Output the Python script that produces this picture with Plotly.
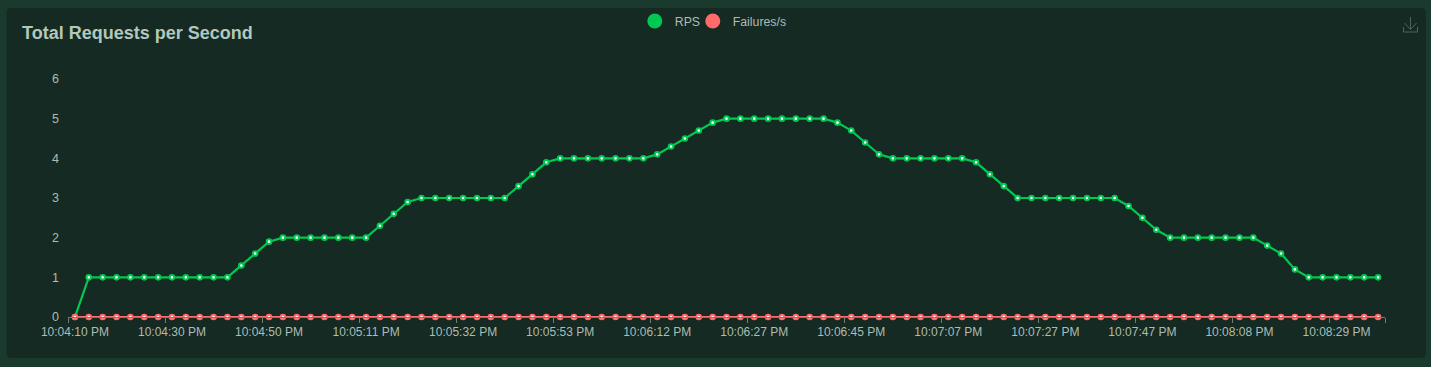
import plotly.graph_objects as go

W, H = 1431, 367
L, R, T, B = 67.5, 1385, 79, 317

rps = [0] + [1]*11 + [1.3, 1.6, 1.9] + [2]*7 + [2.3, 2.6, 2.9] + [3]*7 + [3.3, 3.6, 3.9] + [4]*7 + \
      [4.1, 4.3, 4.5, 4.7, 4.9] + [5]*8 + [4.9, 4.7, 4.4, 4.1] + [4]*6 + [3.9, 3.6, 3.3] + [3]*8 + \
      [2.8, 2.5, 2.2] + [2]*7 + [1.8, 1.6, 1.2] + [1]*6
failures = [0]*len(rps)
tick_labels = ["10:04:10 PM", "10:04:30 PM", "10:04:50 PM", "10:05:11 PM", "10:05:32 PM", "10:05:53 PM",
               "10:06:12 PM", "10:06:27 PM", "10:06:45 PM", "10:07:07 PM", "10:07:27 PM", "10:07:47 PM",
               "10:08:08 PM", "10:08:29 PM"]

GREEN = "#00c853"
RED = "#ff6b6b"
TEXT = "#adbcb4"
FONT = "Liberation Sans"
idx = list(range(len(rps)))
STEP = 7

def X(p): return (p - L) / (R - L)
def Y(p): return 1 - (p - T) / (B - T)

def marker(color):
    return dict(size=4.6, color="#ffffff", line=dict(color=color, width=2))

fig = go.Figure()
fig.add_trace(go.Scatter(x=idx, y=rps, mode="lines+markers", line=dict(color=GREEN, width=2.2),
                         marker=marker(GREEN), showlegend=False, cliponaxis=False))
fig.add_trace(go.Scatter(x=idx, y=failures, mode="lines+markers", line=dict(color=RED, width=2.2),
                         marker=marker(RED), showlegend=False, cliponaxis=False))
fig.add_trace(go.Scatter(x=[None], y=[None], mode="markers", name="RPS", legend="legend",
                         marker=dict(size=15, color=GREEN)))
fig.add_trace(go.Scatter(x=[None], y=[None], mode="markers", name="Failures/s", legend="legend2",
                         marker=dict(size=15, color=RED)))

def rounded(x0, y0, x1, y1, r):
    a, b, c, d = X(x0), X(x1), Y(y0), Y(y1)
    rx, ry = r / (R - L), r / (B - T)
    return (f"M{a+rx},{c} L{b-rx},{c} Q{b},{c} {b},{c-ry} L{b},{d+ry} Q{b},{d} {b-rx},{d} "
            f"L{a+rx},{d} Q{a},{d} {a},{d+ry} L{a},{c-ry} Q{a},{c} {a+rx},{c} Z")

shapes = [dict(type="path", xref="paper", yref="paper", path=rounded(6, 8, 1426, 358, 5),
               fillcolor="#152a22", line=dict(width=0), layer="below")]
ICON = "#4e655b"
def seg(pts):
    return dict(type="path", xref="paper", yref="paper", layer="above", line=dict(color=ICON, width=1),
                path="M" + " L".join(f"{X(a)},{Y(b)}" for a, b in pts))
shapes += [seg([(1403.5, 27), (1403.5, 32), (1417.5, 32), (1417.5, 27)]),
           seg([(1410.5, 17), (1410.5, 29)]),
           seg([(1404.5, 23), (1410.5, 29.5), (1416.5, 23)])]

def legend_at(px):
    return dict(orientation="h", x=X(px), y=Y(21), xanchor="left", yanchor="middle",
                bgcolor="rgba(0,0,0,0)", font=dict(size=12.3, color=TEXT), itemclick=False)

fig.update_layout(
    width=W, height=H, paper_bgcolor="#1b3a2e", plot_bgcolor="rgba(0,0,0,0)",
    margin=dict(l=L, r=W-R, t=T, b=H-B, autoexpand=False),
    font=dict(family=FONT, size=12, color=TEXT),
    title=dict(text="Total Requests per Second", x=22/W, y=1-33/H, xanchor="left", yanchor="middle",
               font=dict(family=FONT, size=18, color="#b3c7bc", weight="bold")),
    showlegend=True,
    legend=legend_at(634.5),
    legend2=legend_at(692.5),
    xaxis=dict(range=[-0.5, len(rps)-0.5], showgrid=False, zeroline=False, showline=True, linecolor="#6e7f76",
               linewidth=1, tickmode="array", tickvals=idx[::STEP], ticktext=tick_labels, ticks="",
               tickfont=dict(size=12, color=TEXT), tickangle=0, ticklabelstandoff=4,
               minor=dict(tickmode="array", tickvals=[i-0.5 for i in idx[::STEP]] + [len(rps)-0.5],
                          ticks="outside", ticklen=5, tickcolor="#6e7f76", tickwidth=1, showgrid=False)),
    yaxis=dict(range=[0, 6], tickmode="array", tickvals=[0, 1, 2, 3, 4, 5, 6], showgrid=False, zeroline=False,
               showline=False, ticks="", ticklabelstandoff=8, tickfont=dict(size=12.5, color=TEXT)),
    shapes=shapes,
)
fig.write_html("out.html", config=dict(displayModeBar=False),
               post_script="document.body.style.margin='0';document.body.style.overflow='hidden';")
